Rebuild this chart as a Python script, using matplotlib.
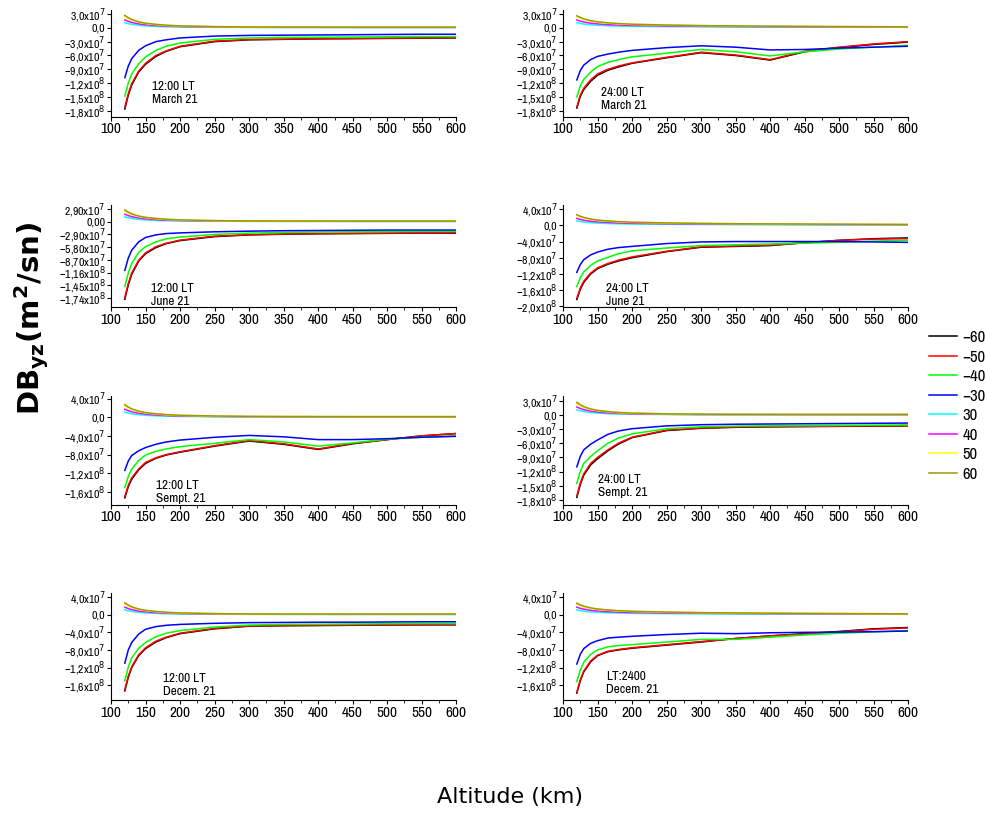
"""
DB_yz profiles vs altitude for eight season / local-time cases
"""

import matplotlib.pyplot as plt
from matplotlib import font_manager
from matplotlib.lines import Line2D
from matplotlib.ticker import MultipleLocator, FixedLocator, FixedFormatter

# the original uses a narrow sans; pick one if installed
font_names = sorted({f.name for f in font_manager.fontManager.ttflist})
narrow = [n for n in font_names if 'Narrow' in n or 'Condensed' in n]
condensed_dejavu = any(f.name == 'DejaVu Sans' and 'condensed' in str(f.stretch)
                       for f in font_manager.fontManager.ttflist)
if narrow:
    plt.rcParams['font.family'] = [narrow[0], 'DejaVu Sans']
    small = 1.0
elif condensed_dejavu:
    plt.rcParams['font.family'] = ['DejaVu Sans']
    plt.rcParams['font.stretch'] = 'condensed'
    small = 1.0
else:
    plt.rcParams['font.family'] = ['DejaVu Sans']
    small = 0.85

# altitude grid (km)
alt = [120, 125, 130, 140, 150, 165, 180, 200, 250, 300, 350, 400, 450, 500, 550, 600]

latitudes = ['−60', '−50', '−40', '−30', '30', '40', '50', '60']
line_colors = ['#000000', '#ff0000', '#00ff00', '#0000ff',
               '#00ffff', '#ff00ff', '#ffff00', '#999900']

# all values below are in units of 1e7 m^2/s
# positive latitudes, noon cases
pos30_day = [1.1, 0.9, 0.75, 0.55, 0.42, 0.3, 0.22, 0.17, 0.11, 0.08, 0.07, 0.07, 0.06, 0.06, 0.06, 0.06]
pos40_day = [1.7, 1.4, 1.15, 0.85, 0.66, 0.48, 0.36, 0.27, 0.17, 0.12, 0.1, 0.1, 0.09, 0.09, 0.09, 0.09]
pos50_day = [2.4, 2.0, 1.65, 1.2, 0.92, 0.68, 0.5, 0.37, 0.23, 0.16, 0.14, 0.13, 0.12, 0.12, 0.12, 0.12]
pos60_day = [2.7, 2.2, 1.8, 1.3, 1.0, 0.75, 0.56, 0.42, 0.26, 0.18, 0.16, 0.15, 0.14, 0.14, 0.14, 0.14]
# positive latitudes, midnight cases
pos30_night = [1.1, 0.95, 0.8, 0.65, 0.55, 0.45, 0.38, 0.32, 0.25, 0.2, 0.17, 0.15, 0.13, 0.12, 0.11, 0.1]
pos40_night = [1.7, 1.45, 1.25, 1.0, 0.85, 0.7, 0.6, 0.5, 0.4, 0.33, 0.28, 0.25, 0.22, 0.2, 0.18, 0.16]
pos50_night = [2.4, 2.1, 1.8, 1.45, 1.2, 1.0, 0.85, 0.72, 0.55, 0.45, 0.38, 0.33, 0.29, 0.26, 0.23, 0.2]
pos60_night = [2.6, 2.25, 1.95, 1.55, 1.3, 1.08, 0.92, 0.78, 0.6, 0.48, 0.4, 0.35, 0.31, 0.27, 0.24, 0.21]

# March 21, 12:00 LT
mar12_m60 = [-17.6, -14.6, -12.4, -9.6, -7.9, -6.2, -5.1, -4.1, -3.0, -2.6, -2.5, -2.4, -2.35, -2.3, -2.25, -2.2]
mar12_m50 = [-17.2, -14.3, -12.1, -9.4, -7.7, -6.0, -5.0, -4.0, -2.9, -2.55, -2.45, -2.35, -2.3, -2.25, -2.2, -2.15]
mar12_m40 = [-14.8, -12.0, -10.0, -7.8, -6.3, -4.9, -4.0, -3.3, -2.5, -2.2, -2.1, -2.05, -2.0, -1.95, -1.9, -1.9]
mar12_m30 = [-10.8, -8.3, -6.7, -4.9, -3.9, -3.0, -2.6, -2.2, -1.8, -1.65, -1.6, -1.55, -1.5, -1.45, -1.4, -1.4]

# March 21, 24:00 LT
mar24_m60 = [-17.4, -14.9, -13.4, -11.6, -10.3, -9.2, -8.5, -7.7, -6.5, -5.4, -6.0, -7.0, -5.2, -4.3, -3.6, -3.1]
mar24_m50 = [-17.2, -14.6, -13.1, -11.3, -10.0, -9.0, -8.3, -7.6, -6.4, -5.3, -5.9, -6.9, -5.1, -4.2, -3.5, -3.0]
mar24_m40 = [-15.0, -12.6, -11.2, -9.6, -8.4, -7.5, -6.9, -6.3, -5.5, -4.7, -5.2, -6.1, -5.2, -4.6, -4.2, -3.8]
mar24_m30 = [-11.3, -9.3, -8.1, -6.9, -6.2, -5.7, -5.3, -4.9, -4.3, -3.9, -4.2, -4.8, -4.7, -4.4, -4.2, -4.0]

# June 21, 12:00 LT
jun12_m60 = [-17.7, -14.4, -12.0, -9.0, -7.3, -5.9, -5.0, -4.3, -3.4, -3.0, -2.85, -2.75, -2.7, -2.65, -2.6, -2.6]
jun12_m50 = [-17.3, -14.1, -11.7, -8.8, -7.1, -5.7, -4.9, -4.2, -3.3, -2.95, -2.8, -2.7, -2.65, -2.6, -2.55, -2.5]
jun12_m40 = [-14.8, -11.7, -9.5, -7.0, -5.7, -4.6, -3.9, -3.5, -2.9, -2.6, -2.45, -2.35, -2.3, -2.25, -2.2, -2.2]
jun12_m30 = [-11.1, -8.3, -6.5, -4.6, -3.6, -3.0, -2.7, -2.55, -2.3, -2.15, -2.05, -2.0, -1.95, -1.9, -1.9, -1.9]

# June 21, 24:00 LT
jun24_m60 = [-18.3, -15.8, -14.1, -12.0, -10.7, -9.6, -8.8, -8.0, -6.5, -5.4, -5.2, -5.0, -4.3, -3.7, -3.3, -3.1]
jun24_m50 = [-18.0, -15.5, -13.8, -11.8, -10.5, -9.4, -8.6, -7.8, -6.4, -5.3, -5.1, -4.9, -4.3, -3.7, -3.4, -3.3]
jun24_m40 = [-15.1, -12.9, -11.5, -9.9, -8.8, -7.9, -7.0, -6.3, -5.6, -5.0, -4.8, -4.6, -4.4, -4.2, -3.9, -3.7]
jun24_m30 = [-11.6, -9.7, -8.5, -7.3, -6.6, -5.9, -5.5, -5.2, -4.5, -4.1, -4.0, -4.0, -4.0, -4.0, -4.1, -4.2]

# Sept 21, 12:00 LT
sep12_m60 = [-17.3, -14.9, -13.3, -11.3, -9.9, -8.8, -8.1, -7.5, -6.2, -5.1, -5.8, -6.9, -5.7, -4.8, -4.0, -3.5]
sep12_m50 = [-17.0, -14.6, -13.0, -11.1, -9.7, -8.7, -8.0, -7.4, -6.1, -5.0, -5.7, -6.8, -5.6, -4.8, -4.0, -3.5]
sep12_m40 = [-15.1, -12.7, -11.1, -9.3, -8.1, -7.3, -6.8, -6.3, -5.6, -4.8, -5.3, -6.2, -5.5, -4.7, -4.3, -4.0]
sep12_m30 = [-11.4, -9.4, -8.2, -7.2, -6.5, -5.8, -5.3, -4.9, -4.3, -3.9, -4.2, -4.8, -4.8, -4.6, -4.3, -4.1]

# Sept 21, 24:00 LT
sep24_m60 = [-17.5, -14.8, -12.8, -10.6, -9.3, -7.6, -6.2, -4.8, -3.3, -2.8, -2.6, -2.5, -2.45, -2.4, -2.35, -2.3]
sep24_m50 = [-17.2, -14.5, -12.5, -10.3, -9.0, -7.4, -6.0, -4.7, -3.2, -2.75, -2.55, -2.45, -2.4, -2.35, -2.3, -2.25]
sep24_m40 = [-14.5, -12.0, -10.3, -8.8, -7.6, -6.0, -4.9, -4.0, -2.9, -2.5, -2.35, -2.3, -2.25, -2.2, -2.15, -2.1]
sep24_m30 = [-11.0, -8.8, -7.4, -6.2, -5.3, -4.1, -3.4, -2.9, -2.3, -2.05, -1.95, -1.9, -1.85, -1.8, -1.75, -1.7]

# Dec 21, 12:00 LT
dec12_m60 = [-17.3, -14.2, -12.0, -9.3, -7.7, -6.2, -5.2, -4.3, -3.2, -2.6, -2.5, -2.45, -2.4, -2.35, -2.3, -2.3]
dec12_m50 = [-17.0, -14.0, -11.8, -9.1, -7.5, -6.0, -5.1, -4.2, -3.1, -2.55, -2.45, -2.4, -2.35, -2.3, -2.25, -2.2]
dec12_m40 = [-15.0, -11.9, -9.8, -7.6, -6.3, -5.0, -4.2, -3.6, -2.8, -2.35, -2.2, -2.15, -2.1, -2.05, -2.0, -2.0]
dec12_m30 = [-11.0, -8.0, -6.3, -4.4, -3.3, -2.7, -2.4, -2.2, -1.95, -1.8, -1.75, -1.7, -1.7, -1.65, -1.6, -1.6]

# Dec 21, 24:00 LT
dec24_m60 = [-17.8, -15.0, -13.0, -10.7, -9.3, -8.4, -8.0, -7.6, -6.9, -6.2, -5.4, -4.8, -4.3, -3.8, -3.2, -2.9]
dec24_m50 = [-17.6, -14.8, -12.8, -10.5, -9.2, -8.3, -7.9, -7.5, -6.8, -6.1, -5.4, -4.8, -4.4, -3.9, -3.3, -3.0]
dec24_m40 = [-15.2, -12.6, -10.8, -9.0, -8.0, -7.3, -7.0, -6.8, -6.2, -5.6, -5.6, -5.1, -4.6, -4.2, -3.9, -3.6]
dec24_m30 = [-11.2, -9.0, -7.7, -6.5, -5.9, -5.3, -5.1, -4.9, -4.5, -4.2, -4.3, -4.1, -4.0, -3.95, -3.85, -3.7]

day_pos = [pos30_day, pos40_day, pos50_day, pos60_day]
night_pos = [pos30_night, pos40_night, pos50_night, pos60_night]

# (series, label, y ticks in 1e7, decimals, ylim, text pos)
panels = [
    ([mar12_m60, mar12_m50, mar12_m40, mar12_m30] + day_pos, '12:00 LT\nMarch 21',
     [3, 0, -3, -6, -9, -12, -15, -18], 1, (-19.3, 3.9), (0.12, 0.11)),
    ([mar24_m60, mar24_m50, mar24_m40, mar24_m30] + night_pos, '24:00 LT\nMarch 21',
     [3, 0, -3, -6, -9, -12, -15, -18], 1, (-19.3, 3.9), (0.11, 0.05)),
    ([jun12_m60, jun12_m50, jun12_m40, jun12_m30] + day_pos, '12:00 LT\nJune 21',
     [2.9, 0, -2.9, -5.8, -8.7, -11.6, -14.5, -17.4], 2, (-19.5, 3.8), (0.115, 0.0)),
    ([jun24_m60, jun24_m50, jun24_m40, jun24_m30] + night_pos, '24:00 LT\nJune 21',
     [4, 0, -4, -8, -12, -16, -20], 1, (-20.2, 5.0), (0.125, 0.0)),
    ([sep12_m60, sep12_m50, sep12_m40, sep12_m30] + day_pos, '12:00 LT\nSempt. 21',
     [4, 0, -4, -8, -12, -16], 1, (-18.8, 4.5), (0.13, 0.01)),
    ([sep24_m60, sep24_m50, sep24_m40, sep24_m30] + day_pos, '24:00 LT\nSempt. 21',
     [3, 0, -3, -6, -9, -12, -15, -18], 1, (-19.1, 4.0), (0.10, 0.06)),
    ([dec12_m60, dec12_m50, dec12_m40, dec12_m30] + day_pos, '12:00 LT\nDecem. 21',
     [4, 0, -4, -8, -12, -16], 1, (-19.4, 4.9), (0.15, 0.03)),
    ([dec24_m60, dec24_m50, dec24_m40, dec24_m30] + night_pos, 'LT:2400\nDecem. 21',
     [4, 0, -4, -8, -12, -16], 1, (-19.4, 4.9), (0.125, 0.05)),
]


def tick_label(v, dec):
    if v == 0:
        return '0,' + '0' * dec
    val = v * 1e7
    exp = 7 if abs(v) < 10 else 8
    mant = val / 10 ** exp
    s = f'{abs(mant):.{dec}f}'.replace('.', ',')
    sign = '−' if v < 0 else ''
    return f'{sign}{s}x10$^{{{exp}}}$'


fig = plt.figure(figsize=(9.86, 8.17), dpi=100)

lefts = [0.1126, 0.571]
row_boxes = [(0.857, 0.131), (0.624, 0.125), (0.382, 0.133), (0.143, 0.131)]

for i, (series, label, yticks, dec, ylim, tpos) in enumerate(panels):
    row, col = divmod(i, 2)
    bottom, height = row_boxes[row]
    ax = fig.add_axes([lefts[col], bottom, 0.35, height])
    for vals, c, lab in zip(series, line_colors, latitudes):
        ax.plot(alt, [v * 1e7 for v in vals], color=c, lw=1.1, label=lab)
    ax.set_xlim(100, 600)
    ax.set_ylim(ylim[0] * 1e7, ylim[1] * 1e7)
    ax.xaxis.set_major_locator(MultipleLocator(50))
    ax.xaxis.set_minor_locator(MultipleLocator(25))
    ax.yaxis.set_major_locator(FixedLocator([t * 1e7 for t in yticks]))
    ax.yaxis.set_major_formatter(FixedFormatter([tick_label(t, dec) for t in yticks]))
    ax.tick_params(axis='x', labelsize=11 * small, length=3, pad=1)
    ax.tick_params(axis='x', which='minor', length=2)
    ax.tick_params(axis='y', labelsize=8.5 * small, length=3, pad=1)
    ax.spines['top'].set_visible(False)
    ax.spines['right'].set_visible(False)
    ax.text(tpos[0], tpos[1], label, transform=ax.transAxes, fontsize=9.5 * small,
            ha='left', va='bottom', linespacing=1.25)

handles = [Line2D([], [], color=c, lw=1.1) for c in line_colors]
fig.legend(handles, latitudes, loc='upper left', bbox_to_anchor=(0.942, 0.596),
           frameon=False, fontsize=12 * small, handlelength=1.7 / small, handletextpad=0.3,
           labelspacing=0.27 / small, borderpad=0, borderaxespad=0)

fig.text(0.032, 0.61, r'DB$_{\mathbf{yz}}$(m$^{\mathbf{2}}$/sn)', rotation=90,
         fontsize=21, fontweight='bold', ha='center', va='center',
         family='DejaVu Sans')
fig.text(0.517, 0.025, 'Altitude (km)', fontsize=16, ha='center', va='center',
         family='DejaVu Sans')

plt.savefig('out.png', dpi=100)
